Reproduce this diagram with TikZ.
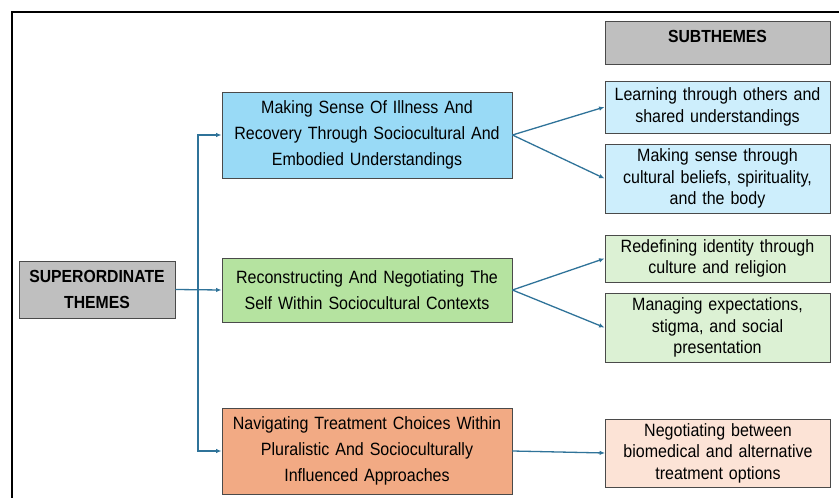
\documentclass[tikz,border=0pt]{standalone}
\usepackage{fontspec}
\setmainfont{Liberation Sans}[FakeStretch=0.9,WordSpace=0.8]
\usetikzlibrary{arrows.meta}
\definecolor{mainblue}{HTML}{99DAF6}
\definecolor{subblue}{HTML}{CDEEFC}
\definecolor{maingreen}{HTML}{B5E3A0}
\definecolor{subgreen}{HTML}{DCF1D4}
\definecolor{mainorange}{HTML}{F2AA84}
\definecolor{suborange}{HTML}{FCE3D6}
\definecolor{hdrgray}{HTML}{BFBFBF}
\definecolor{edgegray}{HTML}{4A4A4A}
\definecolor{arrowblue}{HTML}{2F7399}
\tikzset{
  box/.style={draw=edgegray, line width=0.9pt, align=center, inner sep=0pt,
    font=\fontsize{17.8}{21.5}\selectfont},
  mainbox/.style={box, minimum width=290pt, text width=280pt,
    font=\fontsize{17.8}{26}\selectfont},
  subbox/.style={box, minimum width=225pt, text width=215pt},
  hdrbox/.style={box, fill=hdrgray, font=\fontsize{17.5}{21.5}\selectfont\bfseries},
  arr/.style={draw=arrowblue, line width=1.3pt, -{Latex[length=5.5pt,width=4.5pt]}},
}
\begin{document}
\begin{tikzpicture}[x=1pt,y=-1pt]
\useasboundingbox (0,0) rectangle (839,498);
\clip (0,0) rectangle (839,498);
\draw[line width=2pt] (12,520) -- (12,12) -- (860,12);

\node[hdrbox, minimum width=156pt, minimum height=57pt] (sup) at (97,289.5)
  {SUPERORDINATE\\[4pt]THEMES};
\node[hdrbox, minimum width=225pt, minimum height=43pt, text depth=12pt] (hdr) at (717.5,42.5)
  {SUBTHEMES};

\node[mainbox, fill=mainblue, minimum height=86pt] (m1) at (367,135)
  {Making Sense Of Illness And\\Recovery Through Sociocultural And\\Embodied Understandings};
\node[mainbox, fill=maingreen, minimum height=64pt] (m2) at (367,290)
  {Reconstructing And Negotiating The\\Self Within Sociocultural Contexts};
\node[mainbox, fill=mainorange, minimum height=86pt] (m3) at (367,451)
  {Navigating Treatment Choices Within\\Pluralistic And Socioculturally\\Influenced Approaches};

\node[subbox, fill=subblue, minimum height=52pt] (s1) at (717.5,107)
  {Learning through others and\\shared understandings};
\node[subbox, fill=subblue, minimum height=69pt] (s2) at (717.5,178.5)
  {Making sense through\\cultural beliefs, spirituality,\\and the body};
\node[subbox, fill=subgreen, minimum height=47pt] (s3) at (717.5,258.5)
  {Redefining identity through\\culture and religion};
\node[subbox, fill=subgreen, minimum height=69pt] (s4) at (717.5,327.5)
  {Managing expectations,\\stigma, and social\\presentation};
\node[subbox, fill=suborange, minimum height=68pt] (s5) at (718,453)
  {Negotiating between\\biomedical and alternative\\treatment options};

\coordinate (tr) at (198,0);
\draw[arr] (sup.east) -- (m2.west);
\draw[arr] (tr |- sup.east) |- (m1.west);
\draw[arr] (tr |- sup.east) |- (m3.west);

\draw[arr] (m1.east) -- (s1.west);
\draw[arr] (m1.east) -- (s2.west);
\draw[arr] (m2.east) -- (s3.west);
\draw[arr] (m2.east) -- (s4.west);
\draw[arr] (m3.east) -- (s5.west);
\end{tikzpicture}
\end{document}
